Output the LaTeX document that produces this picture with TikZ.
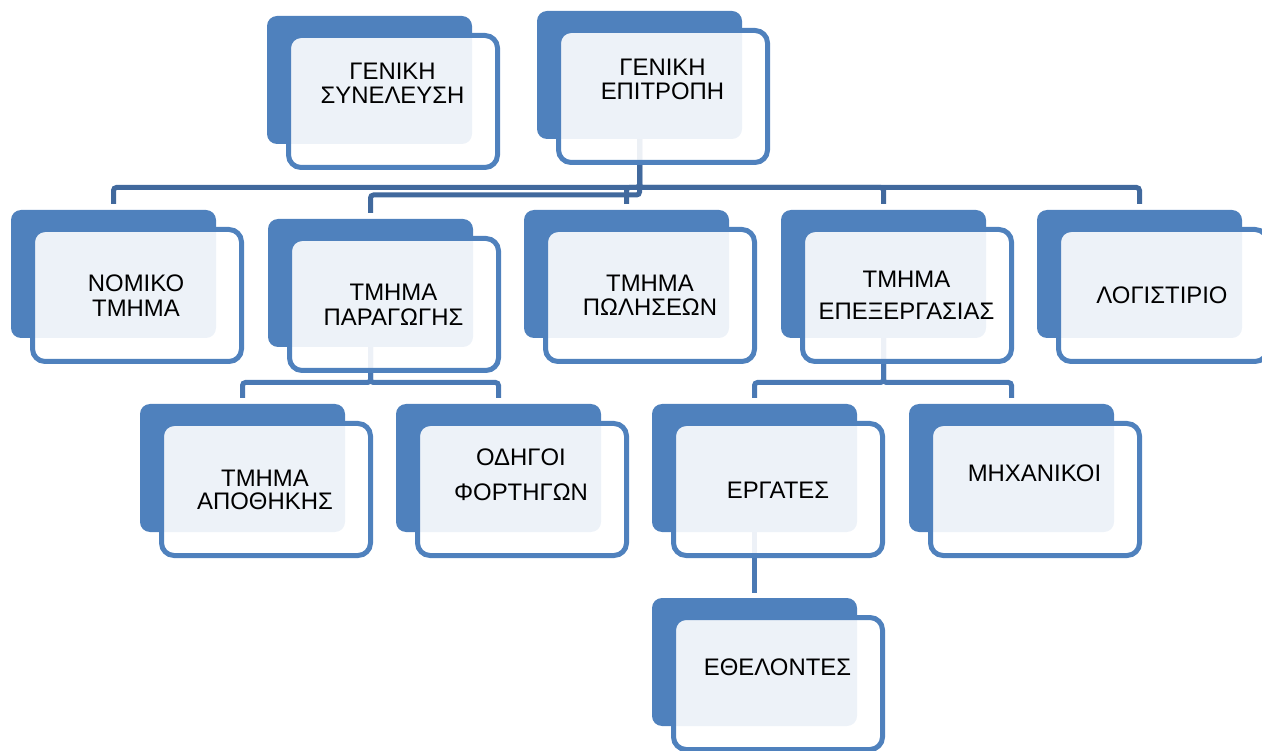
\documentclass[tikz,border=0pt]{standalone}
\usepackage{fontspec}
\setmainfont{Liberation Sans}
\usetikzlibrary{calc,backgrounds}
\definecolor{backc}{HTML}{4F81BD}
\definecolor{framec}{HTML}{4F81BD}
\definecolor{conndark}{HTML}{41699D}
\definecolor{connmid}{HTML}{4A79B4}
\tikzset{
  backbox/.style={fill=backc, rounded corners=10pt, minimum width=205pt, minimum height=128pt, inner sep=0pt, outer sep=0pt, anchor=north west},
  frontbox/.style={draw=framec, line width=5pt, fill=white, fill opacity=0.9, rounded corners=12.5pt, minimum width=209pt, minimum height=132pt, inner sep=0pt, outer sep=0pt, anchor=north west},
  txt/.style={font=\fontsize{23.9}{#1}\selectfont, align=center, inner sep=0pt, text=black},
  txt/.default=25,
  connA/.style={draw=conndark, line width=5pt, rounded corners=3pt},
  connB/.style={draw=connmid, line width=5pt, rounded corners=3pt}
}
\newcommand\orgunit[7]{%
  \node[backbox] (#1) at (#2,#3) {};
  \node[frontbox] (#1-f) at ([xshift=21.5pt,yshift=-19.5pt]#1.north west) {};
  \node[txt=#6] (#1-t) at (#4,#5) {#7};
}
\begin{document}
\begin{tikzpicture}[x=1pt,y=-1pt]
\useasboundingbox (0,0) rectangle (1262,751);
\clip (0,0) rectangle (1262,751);
\coordinate (bus1) at (0,187.5);
\coordinate (bus2) at (0,195);
\coordinate (bus3) at (0,382.5);

\orgunit{gs}{267}{16}{392.5}{83.6}{24}{ΓΕΝΙΚΗ\\ΣΥΝΕΛΕΥΣΗ}
\orgunit{ge}{537}{11}{662.5}{79.3}{24.5}{ΓΕΝΙΚΗ\\ΕΠΙΤΡΟΠΗ}
\orgunit{nom}{11}{210}{136}{296}{25}{ΝΟΜΙΚΟ\\ΤΜΗΜΑ}
\orgunit{par}{268}{219}{393.5}{305}{25}{ΤΜΗΜΑ\\ΠΑΡΑΓΩΓΗΣ}
\orgunit{pol}{524}{210}{650}{295}{24}{ΤΜΗΜΑ\\ΠΩΛΗΣΕΩΝ}
\orgunit{epe}{781}{210}{906.5}{295}{32}{ΤΜΗΜΑ\\ΕΠΕΞΕΡΓΑΣΙΑΣ}
\orgunit{log}{1037}{210}{1162}{295}{25}{ΛΟΓΙΣΤΙΡΙΟ}
\orgunit{apo}{140}{404}{265}{489.5}{23}{ΤΜΗΜΑ\\ΑΠΟΘΗΚΗΣ}
\orgunit{odi}{396}{404}{521}{474.5}{35}{ΟΔΗΓΟΙ\\ΦΟΡΤΗΓΩΝ}
\orgunit{erg}{652}{404}{778}{490}{25}{ΕΡΓΑΤΕΣ}
\orgunit{mix}{909}{404}{1034.5}{473}{25}{ΜΗΧΑΝΙΚΟΙ}
\orgunit{eth}{652}{598}{777.5}{667.5}{25}{ΕΘΕΛΟΝΤΕΣ}

\begin{pgfonlayer}{background}
\draw[connA] (ge.south) -- (ge.south |- bus2) -| ([yshift=6pt]par.north);
\draw[connA] (ge.south) -- (ge.south |- bus1) -| ([yshift=6pt]nom.north);
\draw[connA] (ge.south) -- (ge.south |- bus1) -| ([yshift=6pt]pol.north);
\draw[connA] (ge.south) -- (ge.south |- bus1) -| ([yshift=6pt]epe.north);
\draw[connA] (ge.south) -- (ge.south |- bus1) -| ([yshift=6pt]log.north);
\draw[connB] (par.south) -- (par.south |- bus3) -| ([yshift=6pt]apo.north);
\draw[connB] (par.south) -- (par.south |- bus3) -| ([yshift=6pt]odi.north);
\draw[connB] (epe.south) -- (epe.south |- bus3) -| ([yshift=6pt]erg.north);
\draw[connB] (epe.south) -- (epe.south |- bus3) -| ([yshift=6pt]mix.north);
\draw[connB] (erg.south) -- ([yshift=5pt]eth.north);
\end{pgfonlayer}
\end{tikzpicture}
\end{document}
